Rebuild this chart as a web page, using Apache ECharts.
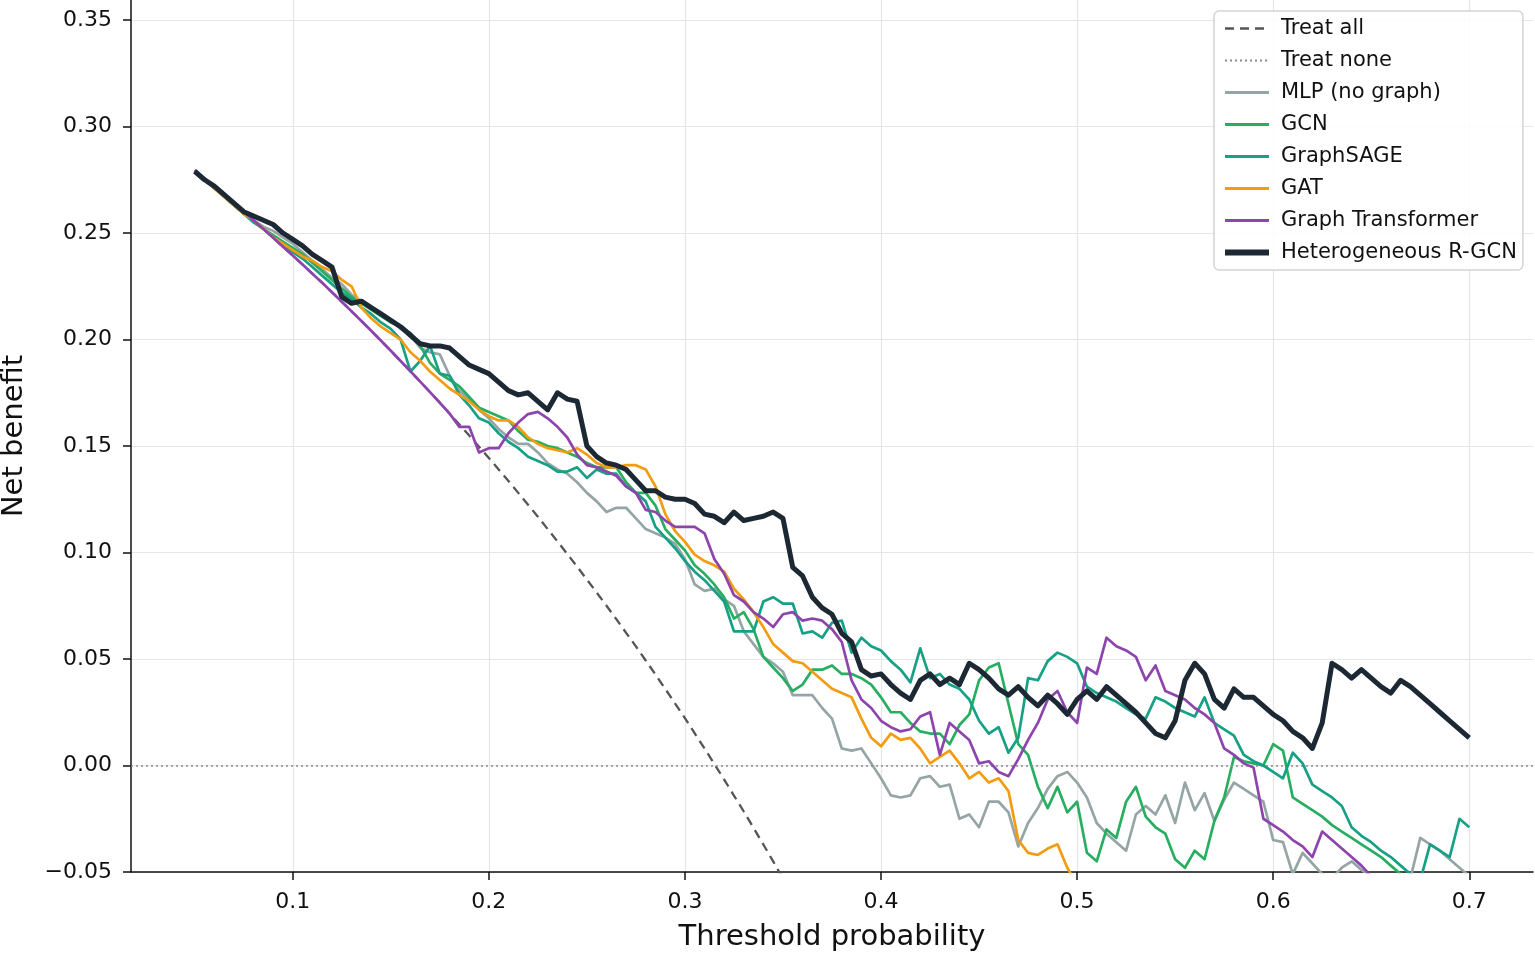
<!DOCTYPE html>
<html>
<head>
<meta charset="utf-8">
<title>Decision curve analysis</title>
<script src="https://cdn.jsdelivr.net/npm/echarts@6/dist/echarts.min.js"></script>
<style>
  html, body { margin: 0; padding: 0; background: #fff; }
  #chart { width: 1535px; height: 953px; }
</style>
</head>
<body>
<div id="chart"></div>
<script>
// threshold probabilities (x)
var thresholds = [
  0.05, 0.055, 0.06, 0.065, 0.07, 0.075, 0.08, 0.085, 0.09, 0.095,
  0.1, 0.105, 0.11, 0.115, 0.12, 0.125, 0.13, 0.135, 0.14, 0.145,
  0.15, 0.155, 0.16, 0.165, 0.17, 0.175, 0.18, 0.185, 0.19, 0.195,
  0.2, 0.205, 0.21, 0.215, 0.22, 0.225, 0.23, 0.235, 0.24, 0.245,
  0.25, 0.255, 0.26, 0.265, 0.27, 0.275, 0.28, 0.285, 0.29, 0.295,
  0.3, 0.305, 0.31, 0.315, 0.32, 0.325, 0.33, 0.335, 0.34, 0.345,
  0.35, 0.355, 0.36, 0.365, 0.37, 0.375, 0.38, 0.385, 0.39, 0.395,
  0.4, 0.405, 0.41, 0.415, 0.42, 0.425, 0.43, 0.435, 0.44, 0.445,
  0.45, 0.455, 0.46, 0.465, 0.47, 0.475, 0.48, 0.485, 0.49, 0.495,
  0.5, 0.505, 0.51, 0.515, 0.52, 0.525, 0.53, 0.535, 0.54, 0.545,
  0.55, 0.555, 0.56, 0.565, 0.57, 0.575, 0.58, 0.585, 0.59, 0.595,
  0.6, 0.605, 0.61, 0.615, 0.62, 0.625, 0.63, 0.635, 0.64, 0.645,
  0.65, 0.655, 0.66, 0.665, 0.67, 0.675, 0.68, 0.685, 0.69, 0.695,
  0.7
]

var treatAll = [
  0.2795, 0.2757, 0.2718, 0.2679, 0.2640, 0.2600, 0.2560, 0.2519, 0.2478, 0.2436,
  0.2394, 0.2352, 0.2309, 0.2266, 0.2222, 0.2177, 0.2132, 0.2087, 0.2041, 0.1994,
  0.1947, 0.1899, 0.1851, 0.1802, 0.1753, 0.1703, 0.1652, 0.1601, 0.1549, 0.1497,
  0.1444, 0.1390, 0.1336, 0.1280, 0.1224, 0.1168, 0.1110, 0.1052, 0.0993, 0.0934,
  0.0873, 0.0812, 0.0750, 0.0687, 0.0623, 0.0559, 0.0493, 0.0427, 0.0359, 0.0291,
  0.0222, 0.0151, 0.0080, 0.0007, -0.0066, -0.0141, -0.0216, -0.0293, -0.0371, -0.0450,
  -0.0531
]

var mlp = [
  0.279, 0.275, 0.271, 0.267, 0.263, 0.259, 0.256, 0.253, 0.251, 0.248,
  0.245, 0.241, 0.237, 0.233, 0.229, 0.226, 0.221, 0.218, 0.215, 0.212,
  0.209, 0.205, 0.202, 0.196, 0.194, 0.193, 0.183, 0.176, 0.172, 0.167,
  0.163, 0.158, 0.154, 0.151, 0.151, 0.147, 0.142, 0.139, 0.137, 0.133,
  0.128, 0.124, 0.119, 0.121, 0.121, 0.116, 0.111, 0.109, 0.107, 0.104,
  0.097, 0.085, 0.082, 0.083, 0.078, 0.075, 0.063, 0.057, 0.051, 0.048,
  0.044, 0.033, 0.033, 0.033, 0.027, 0.022, 0.008, 0.007, 0.008, 0.001,
  -0.006, -0.014, -0.015, -0.014, -0.006, -0.005, -0.010, -0.009, -0.025, -0.023,
  -0.029, -0.017, -0.017, -0.022, -0.038, -0.027, -0.020, -0.011, -0.005, -0.003,
  -0.008, -0.015, -0.027, -0.032, -0.036, -0.040, -0.023, -0.019, -0.023, -0.014,
  -0.027, -0.008, -0.021, -0.013, -0.026, -0.016, -0.008, -0.011, -0.014, -0.017,
  -0.035, -0.036, -0.051, -0.041, -0.046, -0.051, -0.053, -0.048, -0.045, -0.049,
  -0.052, -0.055, -0.058, -0.057, -0.053, -0.034, -0.037, -0.040, -0.044, -0.048,
  -0.052
]

var gcn = [
  0.279, 0.275, 0.271, 0.267, 0.263, 0.259, 0.256, 0.252, 0.249, 0.246,
  0.243, 0.240, 0.236, 0.232, 0.228, 0.224, 0.220, 0.217, 0.214, 0.211,
  0.208, 0.206, 0.203, 0.197, 0.189, 0.184, 0.181, 0.178, 0.173, 0.168,
  0.166, 0.164, 0.162, 0.157, 0.153, 0.152, 0.150, 0.149, 0.147, 0.145,
  0.142, 0.140, 0.140, 0.140, 0.133, 0.128, 0.128, 0.122, 0.111, 0.106,
  0.101, 0.094, 0.090, 0.085, 0.079, 0.069, 0.072, 0.064, 0.051, 0.046,
  0.041, 0.035, 0.038, 0.045, 0.045, 0.047, 0.043, 0.043, 0.041, 0.038,
  0.032, 0.025, 0.025, 0.020, 0.016, 0.015, 0.015, 0.010, 0.019, 0.024,
  0.040, 0.046, 0.048, 0.029, 0.010, 0.005, -0.010, -0.020, -0.010, -0.022,
  -0.017, -0.041, -0.045, -0.030, -0.034, -0.017, -0.010, -0.024, -0.029, -0.032,
  -0.044, -0.048, -0.040, -0.044, -0.026, -0.015, 0.004, 0.002, 0.001, 0.000,
  0.010, 0.007, -0.015, -0.018, -0.021, -0.024, -0.028, -0.031, -0.034, -0.037,
  -0.040, -0.043, -0.047, -0.051
]

var graphSage = [
  0.279, 0.275, 0.271, 0.267, 0.263, 0.259, 0.255, 0.252, 0.248, 0.245,
  0.241, 0.238, 0.234, 0.230, 0.226, 0.222, 0.219, 0.215, 0.212, 0.208,
  0.205, 0.200, 0.185, 0.190, 0.197, 0.184, 0.183, 0.174, 0.169, 0.163,
  0.161, 0.156, 0.152, 0.149, 0.145, 0.143, 0.141, 0.138, 0.138, 0.140,
  0.135, 0.139, 0.137, 0.137, 0.131, 0.128, 0.124, 0.112, 0.107, 0.102,
  0.096, 0.091, 0.087, 0.082, 0.077, 0.063, 0.063, 0.063, 0.077, 0.079,
  0.076, 0.076, 0.062, 0.063, 0.060, 0.067, 0.068, 0.053, 0.060, 0.056,
  0.054, 0.049, 0.045, 0.039, 0.055, 0.041, 0.043, 0.038, 0.036, 0.031,
  0.021, 0.015, 0.018, 0.006, 0.013, 0.041, 0.040, 0.049, 0.053, 0.051,
  0.048, 0.037, 0.034, 0.032, 0.030, 0.027, 0.024, 0.022, 0.032, 0.030,
  0.027, 0.025, 0.023, 0.032, 0.020, 0.017, 0.014, 0.005, 0.002, 0.000,
  -0.003, -0.006, 0.006, 0.001, -0.009, -0.012, -0.015, -0.019, -0.029, -0.033,
  -0.036, -0.040, -0.043, -0.047, -0.051, -0.054, -0.037, -0.040, -0.043, -0.025,
  -0.029
]

var gat = [
  0.279, 0.275, 0.271, 0.267, 0.263, 0.259, 0.256, 0.252, 0.248, 0.245,
  0.242, 0.239, 0.237, 0.234, 0.232, 0.228, 0.225, 0.215, 0.210, 0.206,
  0.203, 0.200, 0.194, 0.190, 0.185, 0.181, 0.177, 0.174, 0.171, 0.167,
  0.164, 0.162, 0.162, 0.159, 0.154, 0.151, 0.149, 0.148, 0.147, 0.149,
  0.146, 0.142, 0.140, 0.140, 0.141, 0.141, 0.139, 0.131, 0.118, 0.110,
  0.105, 0.099, 0.096, 0.094, 0.091, 0.083, 0.078, 0.072, 0.065, 0.057,
  0.053, 0.049, 0.048, 0.044, 0.040, 0.036, 0.034, 0.032, 0.022, 0.013,
  0.009, 0.015, 0.012, 0.013, 0.008, 0.001, 0.004, 0.007, 0.001, -0.006,
  -0.003, -0.008, -0.006, -0.012, -0.035, -0.041, -0.042, -0.039, -0.037, -0.048,
  -0.056
]

var graphTransformer = [
  0.2795, 0.2757, 0.2718, 0.2679, 0.2640, 0.2600, 0.2560, 0.2519, 0.2478, 0.2436,
  0.2394, 0.2352, 0.2309, 0.2266, 0.2222, 0.2177, 0.2132, 0.2087, 0.2041, 0.1994,
  0.1947, 0.1899, 0.1851, 0.1802, 0.1753, 0.1703, 0.1652, 0.159, 0.159, 0.147,
  0.149, 0.149, 0.156, 0.161, 0.165, 0.166, 0.163, 0.159, 0.154, 0.146,
  0.141, 0.140, 0.138, 0.136, 0.131, 0.128, 0.120, 0.119, 0.115, 0.112,
  0.112, 0.112, 0.109, 0.097, 0.090, 0.080, 0.077, 0.072, 0.069, 0.065,
  0.071, 0.072, 0.068, 0.069, 0.068, 0.064, 0.058, 0.040, 0.031, 0.027,
  0.021, 0.018, 0.016, 0.017, 0.023, 0.025, 0.005, 0.020, 0.016, 0.012,
  0.001, 0.002, -0.003, -0.005, 0.003, 0.012, 0.020, 0.031, 0.035, 0.025,
  0.020, 0.046, 0.043, 0.060, 0.056, 0.054, 0.051, 0.040, 0.047, 0.035,
  0.033, 0.031, 0.027, 0.024, 0.020, 0.008, 0.005, 0.001, -0.001, -0.025,
  -0.028, -0.031, -0.035, -0.038, -0.043, -0.031, -0.035, -0.039, -0.043, -0.047,
  -0.052
]

var rgcn = [
  0.279, 0.275, 0.272, 0.268, 0.264, 0.260, 0.258, 0.256, 0.254, 0.250,
  0.247, 0.244, 0.240, 0.237, 0.234, 0.220, 0.217, 0.218, 0.215, 0.212,
  0.209, 0.206, 0.202, 0.198, 0.197, 0.197, 0.196, 0.192, 0.188, 0.186,
  0.184, 0.180, 0.176, 0.174, 0.175, 0.171, 0.167, 0.175, 0.172, 0.171,
  0.150, 0.145, 0.142, 0.141, 0.139, 0.134, 0.129, 0.129, 0.126, 0.125,
  0.125, 0.123, 0.118, 0.117, 0.114, 0.119, 0.115, 0.116, 0.117, 0.119,
  0.116, 0.093, 0.089, 0.079, 0.074, 0.071, 0.062, 0.058, 0.045, 0.042,
  0.043, 0.038, 0.034, 0.031, 0.040, 0.043, 0.038, 0.041, 0.038, 0.048,
  0.045, 0.041, 0.036, 0.033, 0.037, 0.032, 0.028, 0.033, 0.029, 0.024,
  0.031, 0.035, 0.031, 0.037, 0.033, 0.029, 0.025, 0.020, 0.015, 0.013,
  0.021, 0.040, 0.048, 0.043, 0.031, 0.027, 0.036, 0.032, 0.032, 0.028,
  0.024, 0.021, 0.016, 0.013, 0.008, 0.020, 0.048, 0.045, 0.041, 0.045,
  0.041, 0.037, 0.034, 0.040, 0.037, 0.033, 0.029, 0.025, 0.021, 0.017,
  0.013
]

var xTicks = [0.1, 0.2, 0.3, 0.4, 0.5, 0.6, 0.7]
var yTicks = [-0.05, 0, 0.05, 0.1, 0.15, 0.2, 0.25, 0.3, 0.35]

var FONT = 'DejaVu Sans'

function pairs (vals) {
  return vals.map(function (v, i) { return [thresholds[i], v] })
}

function curve (name, vals, color, width, dash, z) {
  return {
    name: name,
    type: 'line',
    data: pairs(vals),
    symbol: 'none',
    z: z,
    clip: true,
    lineStyle: { color: color, width: width, type: dash || 'solid', join: 'round' },
    itemStyle: { color: color },
    emphasis: { disabled: true }
  }
}

var chart = echarts.init(document.getElementById('chart'), null, { renderer: 'canvas' })

chart.setOption({
  animation: false,
  backgroundColor: '#ffffff',
  grid: { left: 131, right: 2, top: 0, bottom: 81, outerBoundsMode: 'none' },
  legend: {
    orient: 'vertical',
    left: 1214,
    top: 11,
    padding: [7, 6, 7, 8],
    itemWidth: 44,
    itemHeight: 20,
    itemGap: 11,
    backgroundColor: 'rgba(255,255,255,0.85)',
    borderColor: '#d4d4d4',
    borderWidth: 1.5,
    borderRadius: 5,
    // line samples only, no marker
    itemStyle: { opacity: 0 },
    lineStyle: { width: 3 },
    textStyle: { fontFamily: FONT, fontSize: 21, color: '#111', lineHeight: 20, padding: [0, 0, 0, 7] },
    data: [
      { name: 'Treat all', lineStyle: { width: 2.5 } },
      { name: 'Treat none', lineStyle: { width: 1.8 } },
      'MLP (no graph)', 'GCN', 'GraphSAGE', 'GAT', 'Graph Transformer',
      { name: 'Heterogeneous R-GCN', lineStyle: { width: 6 } }
    ]
  },
  xAxis: {
    type: 'value',
    min: 0.0175,
    max: 0.7325,
    name: 'Threshold probability',
    nameLocation: 'middle',
    nameGap: 51,
    nameTextStyle: { fontFamily: FONT, fontSize: 29, color: '#111' },
    axisLine: { show: true, onZero: false, lineStyle: { color: '#111', width: 1.5 } },
    axisTick: { show: true, length: 8, lineStyle: { color: '#111', width: 1.5 }, customValues: xTicks },
    axisLabel: { fontFamily: FONT, fontSize: 22, color: '#111', margin: 19, customValues: xTicks,
      formatter: function (v) { return String(v) } },
    splitLine: { show: true, lineStyle: { color: '#e6e6e6', width: 1.2 } }
  },
  yAxis: {
    type: 'value',
    min: -0.05,
    max: 0.3594,
    name: 'Net benefit',
    nameLocation: 'middle',
    nameRotate: 90,
    nameGap: 102,
    nameTextStyle: { fontFamily: FONT, fontSize: 29, color: '#111' },
    axisLine: { show: true, onZero: false, lineStyle: { color: '#111', width: 1.5 } },
    axisTick: { show: true, length: 8, lineStyle: { color: '#111', width: 1.5 }, customValues: yTicks },
    axisLabel: { fontFamily: FONT, fontSize: 22, color: '#111', margin: 19, customValues: yTicks,
      formatter: function (v) { return v.toFixed(2).replace('-', '\u2212') } },
    splitLine: { show: true, lineStyle: { color: '#e6e6e6', width: 1.2 } }
  },
  series: [
    curve('Treat all', treatAll, '#555555', 2.3, [9, 6], 2),
    {
      name: 'Treat none',
      type: 'line',
      data: [],
      symbol: 'none',
      z: 2,
      lineStyle: { color: '#8a8a8a', width: 1.5, type: [2, 3] },
      itemStyle: { color: '#8a8a8a' },
      markLine: {
        silent: true,
        symbol: ['none', 'none'],
        label: { show: false },
        lineStyle: { color: '#8a8a8a', width: 1.5, type: [2, 3] },
        emphasis: { disabled: true },
        data: [{ yAxis: 0 }]
      }
    },
    curve('MLP (no graph)', mlp, '#95a5a6', 2.7, null, 3),
    curve('GCN', gcn, '#27ae60', 2.7, null, 4),
    curve('GraphSAGE', graphSage, '#16a085', 2.7, null, 5),
    curve('GAT', gat, '#f39c12', 2.7, null, 6),
    curve('Graph Transformer', graphTransformer, '#8e44ad', 2.7, null, 7),
    curve('Heterogeneous R-GCN', rgcn, '#1c2833', 5, null, 8)
  ]
})
</script>
</body>
</html>
